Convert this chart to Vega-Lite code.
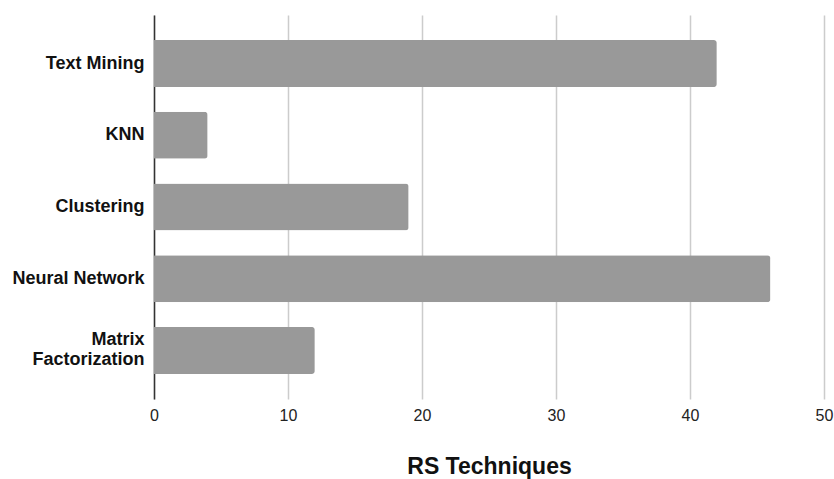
{
  "$schema": "https://vega.github.io/schema/vega-lite/v6.json",
  "autosize": {"type": "none"},
  "padding": {"left": 154, "top": 15, "right": 10, "bottom": 80},
  "width": 670,
  "height": 384,
  "background": "white",
  "config": {"view": {"stroke": null}, "font": "Liberation Sans"},
  "data": {
    "values": [
      {"technique": "Text Mining", "count": 42},
      {"technique": "KNN", "count": 4},
      {"technique": "Clustering", "count": 19},
      {"technique": "Neural Network", "count": 46},
      {"technique": "Matrix Factorization", "count": 12}
    ]
  },
  "mark": {"type": "bar", "color": "#999999", "cornerRadiusEnd": 3},
  "encoding": {
    "y": {
      "field": "technique",
      "type": "nominal",
      "sort": null,
      "scale": {"paddingInner": 0.345, "paddingOuter": 0.35},
      "axis": {
        "title": null,
        "ticks": false,
        "domainColor": "#333333",
        "domainWidth": 1.5,
        "labelFont": "Liberation Sans",
        "labelFontSize": 18,
        "labelFontWeight": "bold",
        "labelColor": "#111111",
        "labelPadding": 10,
        "labelLineHeight": 20,
        "labelLimit": 300,
        "labelOffset": {"condition": {"test": "datum.value == 'Matrix Factorization'", "value": -10}, "value": 0},
        "labelExpr": "datum.value == 'Matrix Factorization' ? ['Matrix', 'Factorization'] : datum.value"
      }
    },
    "x": {
      "field": "count",
      "type": "quantitative",
      "scale": {"domain": [0, 50], "nice": false},
      "axis": {
        "title": "RS Techniques",
        "titleFont": "Liberation Sans",
        "titleFontSize": 23,
        "titleFontWeight": "bold",
        "titleColor": "#111111",
        "titlePadding": 32,
        "values": [0, 10, 20, 30, 40, 50],
        "domain": false,
        "ticks": false,
        "grid": true,
        "gridColor": "#cccccc",
        "gridWidth": 1.5,
        "labelFont": "Liberation Sans",
        "labelFontSize": 16,
        "labelColor": "#222222",
        "labelPadding": 8,
        "labelFlush": false
      }
    }
  }
}
